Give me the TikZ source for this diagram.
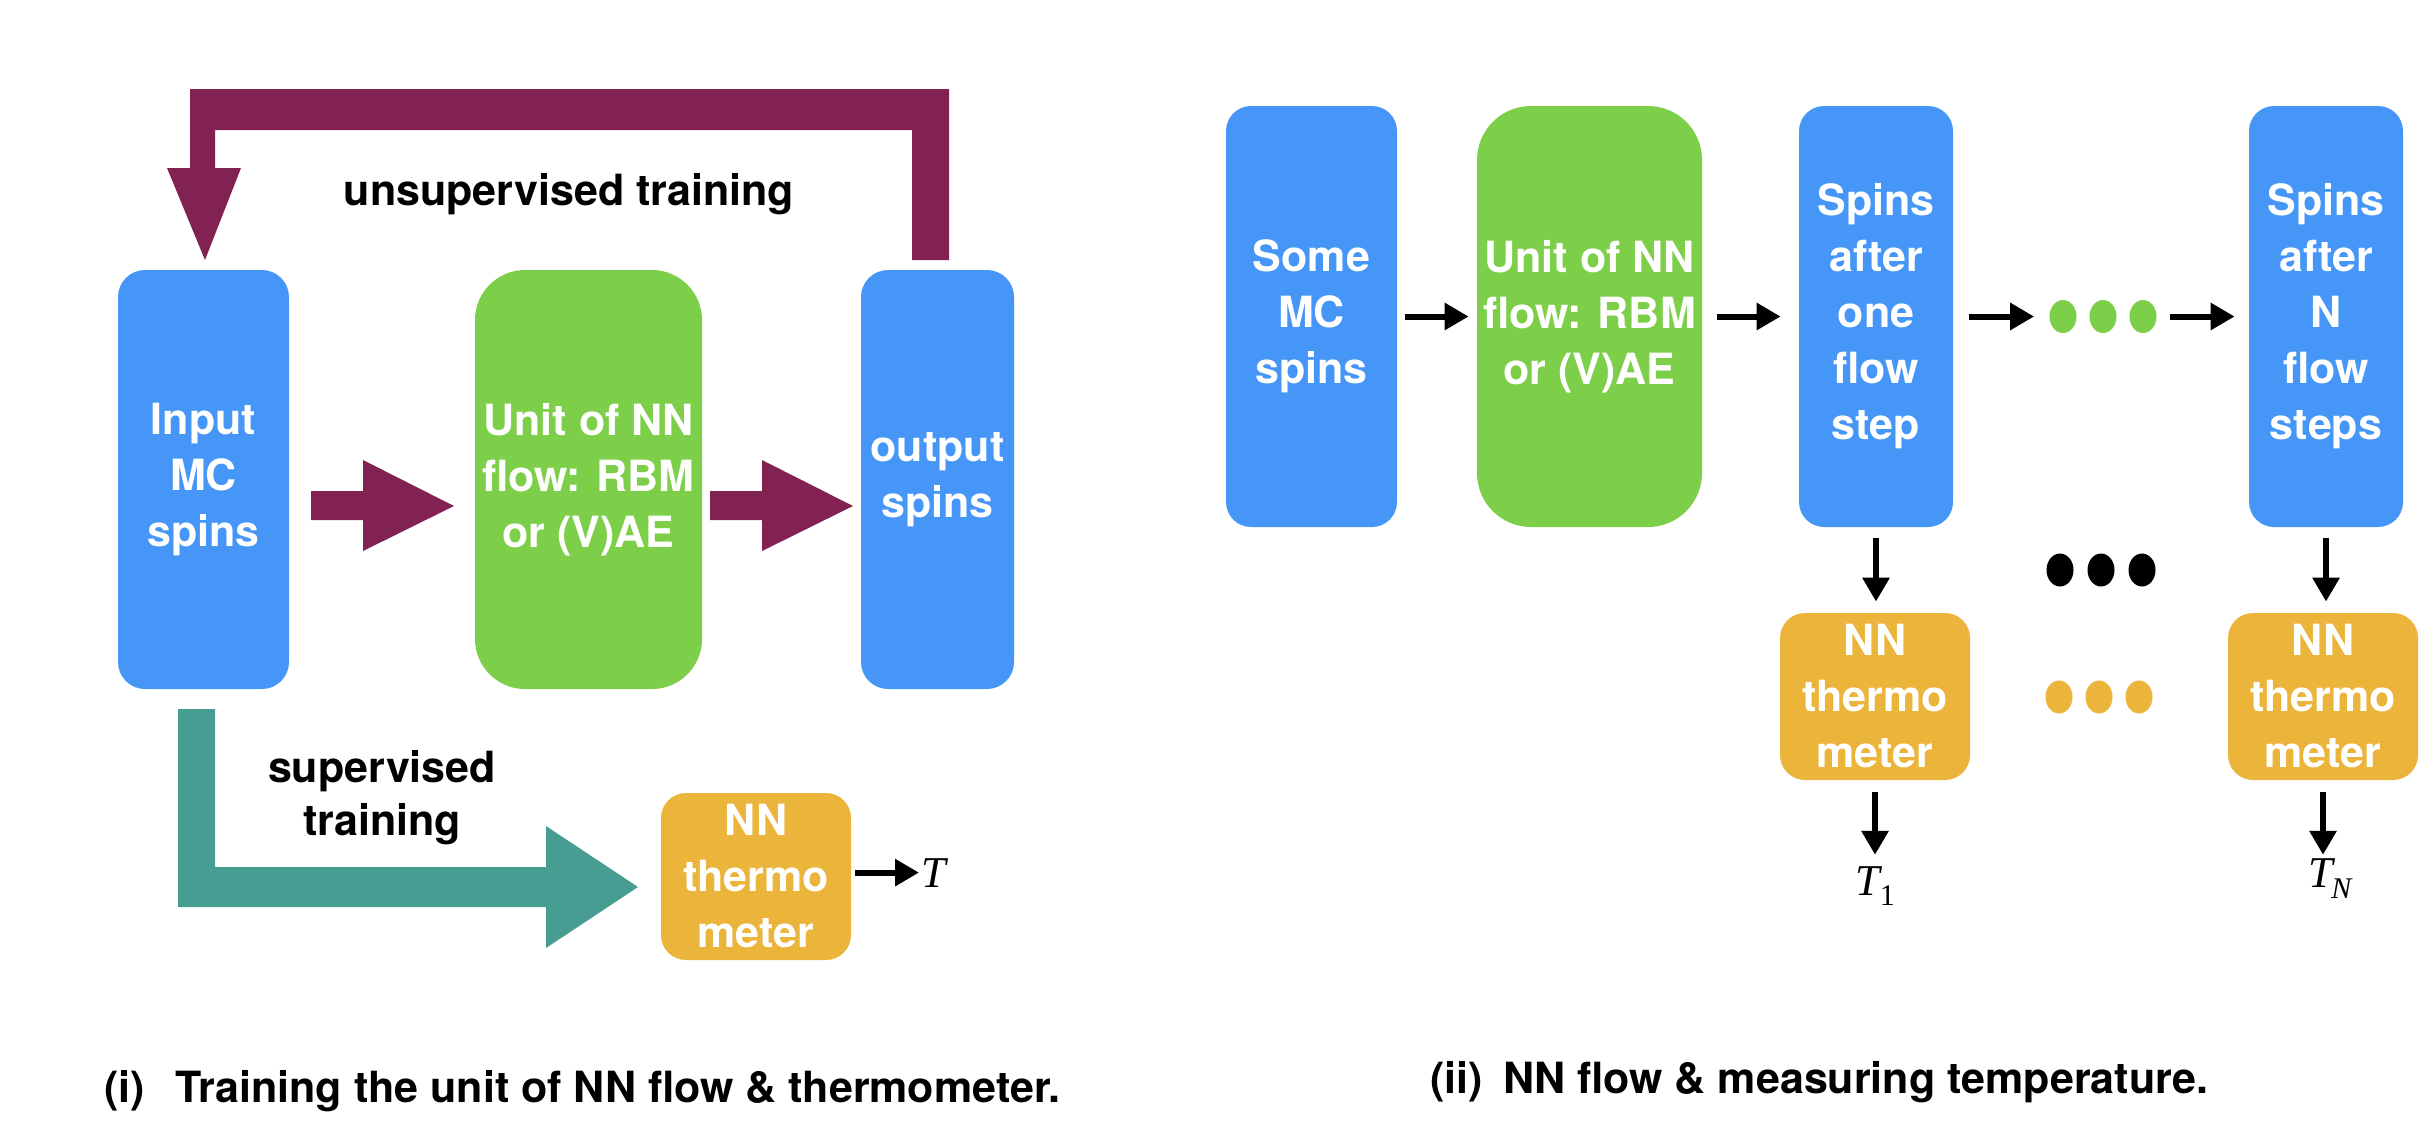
\documentclass[tikz,border=0pt]{standalone}
\usepackage{fontspec}
\setmainfont{TeX Gyre Heros}
\newfontfamily\tfont{Liberation Serif}
\usetikzlibrary{arrows.meta,shapes.geometric}
\definecolor{cblue}{RGB}{69,150,247}
\definecolor{cgreen}{RGB}{125,207,74}
\definecolor{cmaroon}{RGB}{130,34,83}
\definecolor{cteal}{RGB}{72,157,146}
\definecolor{corange}{RGB}{235,180,58}
\tikzset{
  box/.style={inner sep=0pt, text=white, align=center, font=\fontsize{21.5}{28}\selectfont\bfseries},
  bluebox/.style={box, fill=cblue, rounded corners=13pt},
  greenbox/.style={box, fill=cgreen, rounded corners=25pt},
  orangebox/.style={box, fill=corange, rounded corners=12.5pt, minimum width=95pt, minimum height=83.5pt},
  thinarrow/.style={line width=3pt, -{Triangle[length=12pt,width=13pt]}},
  lbl/.style={font=\fontsize{21.5}{26.5}\selectfont\bfseries, inner sep=0pt, align=center},
  tlbl/.style={font=\fontsize{22}{22}\selectfont\tfont, inner sep=0pt},
  dotnode/.style={ellipse, minimum width=13.5pt, minimum height=16.5pt, inner sep=0pt}
}
\begin{document}
\begin{tikzpicture}[x=0.5pt,y=-0.5pt]
\fill[white] (0,0) rectangle (2434,1146);
\useasboundingbox (0,0) rectangle (2434,1146);

% ---------- panel (i) ----------
\node[bluebox, rounded corners=13.5pt, minimum width=85.5pt, minimum height=209.5pt] (in) at (203.5,479.5) {Input\\MC\\spins};
\node[greenbox, rounded corners=25pt, minimum width=113.5pt, minimum height=209.5pt] (unit) at (588.5,479.5) {Unit of NN\\flow: RBM\\or (V)AE};
\node[bluebox, rounded corners=13.5pt, minimum width=76.5pt, minimum height=209.5pt] (out) at (937.5,479.5) {output\\spins};
\node[orangebox] (th0) at (756,876.5) {NN\\thermo\\meter};

% fat maroon arrows
\fill[cmaroon] (311,491) -- (363,491) -- (363,460) -- (454,506) -- (363,551) -- (363,520) -- (311,520) -- cycle;
\fill[cmaroon] (710,491) -- (762,491) -- (762,460) -- (853,506) -- (762,551) -- (762,520) -- (710,520) -- cycle;
% feedback arrow
\fill[cmaroon] (949,260) -- (949,89) -- (190,89) -- (190,168) -- (167,168) -- (205,260) -- (241,168) -- (215,168) -- (215,130) -- (912,130) -- (912,260) -- cycle;
% teal arrow
\fill[cteal] (178,709) -- (215,709) -- (215,867) -- (546,867) -- (546,826) -- (638,887) -- (546,948) -- (546,907) -- (178,907) -- cycle;

\node[lbl, anchor=base] (unsup) at (569,205) {unsupervised training};
\node[lbl] (sup) at (382,797.5) {supervised\\training};

\node[tlbl, anchor=base west] (Tl) at (921,887) {\itshape T};
\draw[thinarrow, shorten <=2pt, shorten >=1pt] (th0.east |- Tl.west) -- (Tl.west);

% ---------- panel (ii) ----------
\node[bluebox, rounded corners=12.5pt, minimum width=85.5pt, minimum height=210.5pt] (some) at (1311.5,316.5) {Some\\MC\\spins};
\node[greenbox, rounded corners=27pt, minimum width=112.5pt, minimum height=210.5pt] (unit2) at (1589.5,316.5) {Unit of NN\\flow: RBM\\or (V)AE};
\node[bluebox, rounded corners=12.5pt, minimum width=77pt, minimum height=210.5pt] (s1) at (1876,316.5) {Spins\\after\\one\\flow\\step};
\node[bluebox, rounded corners=12.5pt, minimum width=77pt, minimum height=210.5pt] (sN) at (2326,316.5) {Spins\\after\\N\\flow\\steps};
\node[orangebox] (th1) at (1875,696.5) {NN\\thermo\\meter};
\node[orangebox] (thN) at (2323,696.5) {NN\\thermo\\meter};

\foreach \i/\x in {1/2063,2/2103,3/2143} \node[dotnode, fill=cgreen] (g\i) at (\x,316.5) {};
\foreach \i/\x in {1/2060,2/2101,3/2142} \node[dotnode, fill=black] (k\i) at (\x,570) {};
\foreach \i/\x in {1/2059,2/2099,3/2139} \node[dotnode, fill=corange] (o\i) at (\x,697) {};

\draw[thinarrow, shorten <=4pt, shorten >=4pt] (some) -- (unit2);
\draw[thinarrow, shorten <=7.5pt, shorten >=9pt] (unit2) -- (s1);
\draw[thinarrow, shorten <=8pt, shorten >=7.5pt] (s1) -- (g1);
\draw[thinarrow, shorten <=6.5pt, shorten >=7pt] (g3) -- (sN);

\draw[thinarrow, shorten <=5.5pt, shorten >=5.5pt] (s1.south) -- (s1.south |- th1.north);
\draw[thinarrow, shorten <=5.5pt, shorten >=5.5pt] (sN.south) -- (sN.south |- thN.north);

\node[tlbl, anchor=base] (T1) at (1875,895) {{\itshape T}\raisebox{-5pt}{\fontsize{15}{15}\selectfont 1}};
\node[tlbl, anchor=base] (TN) at (2330,887) {{\itshape T}\kern-1pt\raisebox{-5.5pt}{\fontsize{15}{15}\selectfont\itshape N}};
\draw[thinarrow, shorten <=6pt, shorten >=5.5pt] (th1.south) -- (th1.south |- T1.north);
\draw[thinarrow, shorten <=6pt, shorten >=1.5pt] (thN.south) -- (thN.south |- TN.north);

% ---------- captions ----------
\node[lbl, anchor=base west] (c1a) at (104,1102) {(i)};
\node[lbl, anchor=base west] (c1b) at (175,1102) {Training the unit of NN flow \& thermometer.};
\node[lbl, anchor=base west] (c2a) at (1430,1093) {(ii)};
\node[lbl, anchor=base west] (c2b) at (1503,1093) {NN flow \& measuring temperature.};
\end{tikzpicture}
\end{document}
